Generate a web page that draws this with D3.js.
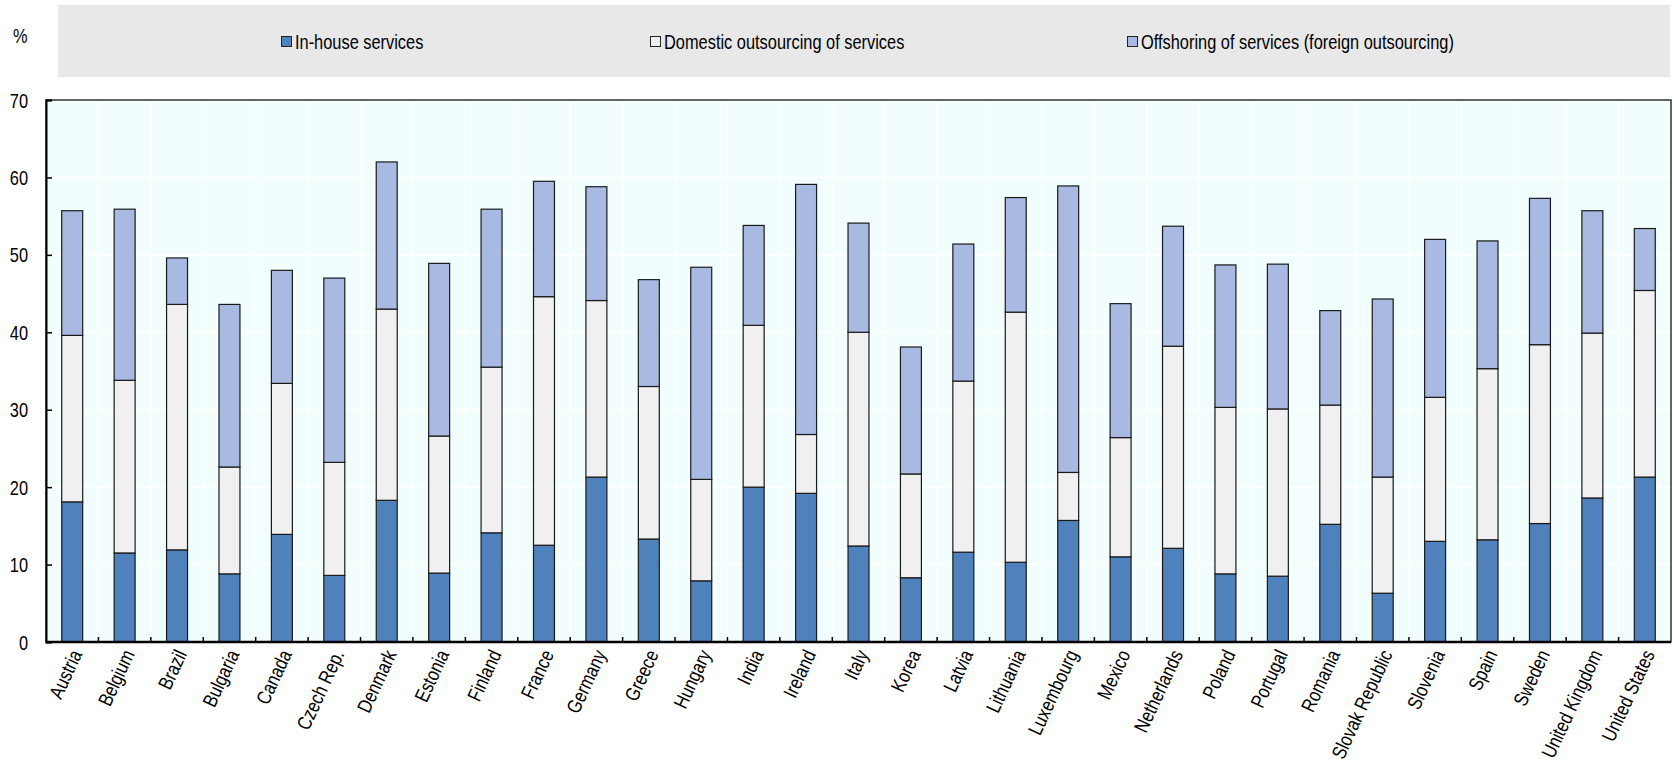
<!DOCTYPE html>
<html>
<head>
<meta charset="utf-8">
<script src="https://cdn.jsdelivr.net/npm/d3@7"></script>
<style>
  html, body { margin: 0; padding: 0; background: #fff; }
  svg { display: block; }
  text { font-family: "Liberation Sans Narrow", "Arial Narrow", "Liberation Sans", Arial, sans-serif; fill: #000; }
</style>
</head>
<body>
<svg id="chart" width="1674" height="760"></svg>
<script>
const countries = ["Austria","Belgium","Brazil","Bulgaria","Canada","Czech Rep.","Denmark","Estonia","Finland","France","Germany","Greece","Hungary","India","Ireland","Italy","Korea","Latvia","Lithuania","Luxembourg","Mexico","Netherlands","Poland","Portugal","Romania","Slovak Republic","Slovenia","Spain","Sweden","United Kingdom","United States"];
const inHouse    = [18.1,11.5,11.9, 8.8,13.9, 8.6,18.3, 8.9,14.1,12.5,21.3,13.3, 7.9,20.0,19.2,12.4, 8.3,11.6,10.3,15.7,11.0,12.1, 8.8, 8.5,15.2, 6.3,13.0,13.2,15.3,18.6,21.3];
const domestic   = [21.5,22.3,31.7,13.8,19.5,14.6,24.7,17.7,21.4,32.1,22.8,19.7,13.1,20.9, 7.6,27.6,13.4,22.1,32.3, 6.2,15.4,26.1,21.5,21.6,15.4,15.0,18.6,22.1,23.1,21.3,24.1];
const offshoring = [16.1,22.1, 6.0,21.0,14.6,23.8,19.0,22.3,20.4,14.9,14.7,13.8,27.4,12.9,32.3,14.1,16.4,17.7,14.8,37.0,17.3,15.5,18.4,18.7,12.2,23.0,20.4,16.5,18.9,15.8, 8.0];
const seriesNames = ["In-house services","Domestic outsourcing of services","Offshoring of services (foreign outsourcing)"];
const seriesKeys = ["inHouse","domestic","offshoring"];
const seriesColors = ["#4f81bd","#f0f0f0","#a8b9e2"];
const yTicks = [0,10,20,30,40,50,60,70];
const unitLabel = "%";

const NARROW = 0.82; // horizontal compression to mimic a narrow typeface
const FS = 20;

const rows = countries.map((c,i)=>({country:c, inHouse:inHouse[i], domestic:domestic[i], offshoring:offshoring[i]}));
const stacked = d3.stack().keys(seriesKeys)(rows);

const svg = d3.select("#chart");
const plot = {left:46, right:1671, top:100, bottom:642};

const x = d3.scaleBand().domain(countries).range([plot.left, plot.right]).paddingInner(0.6).paddingOuter(0.3);
const y = d3.scaleLinear().domain([0,70]).range([plot.bottom, plot.top]);

// legend box
svg.append("rect").attr("x",58).attr("y",5).attr("width",1612).attr("height",72).attr("fill","#e8e8e8");
const legendPos = [281, 650, 1127];
seriesNames.forEach((n,i)=>{
  svg.append("rect").attr("x",legendPos[i]+0.5).attr("y",36.5).attr("width",10).attr("height",10)
     .attr("fill",seriesColors[i]).attr("stroke","#222").attr("stroke-width",1);
  svg.append("text").attr("transform",`translate(${legendPos[i]+14},42) scale(${NARROW},1)`).attr("dy","0.35em")
     .attr("font-size",FS).text(n);
});
svg.append("text").attr("transform",`translate(13,36) scale(${NARROW},1)`).attr("dy","0.35em").attr("font-size",FS).text(unitLabel);

// plot background
svg.append("rect").attr("x",plot.left).attr("y",plot.top).attr("width",plot.right-plot.left).attr("height",plot.bottom-plot.top).attr("fill","#f2fefe");

// gridlines
const step = x.step();
const bounds = d3.range(1, countries.length).map(i => plot.left + i*step);
svg.append("g").selectAll("line").data(bounds).join("line")
  .attr("x1",d=>d).attr("x2",d=>d).attr("y1",plot.top).attr("y2",plot.bottom)
  .attr("stroke","#ffffff").attr("stroke-width",1.5);
svg.append("g").selectAll("line").data(yTicks.slice(1,-1)).join("line")
  .attr("x1",plot.left).attr("x2",plot.right).attr("y1",d=>y(d)).attr("y2",d=>y(d))
  .attr("stroke","#ffffff").attr("stroke-width",1.5);

// bars
svg.append("g").selectAll("g").data(stacked).join("g")
  .attr("fill",(d,i)=>seriesColors[i])
  .selectAll("rect").data(d=>d).join("rect")
  .attr("x",d=>x(d.data.country)).attr("width",x.bandwidth())
  .attr("y",d=>y(d[1])).attr("height",d=>y(d[0])-y(d[1]))
  .attr("stroke","#1a1a1a").attr("stroke-width",1.2);

// frame
svg.append("rect").attr("x",plot.left).attr("y",plot.top).attr("width",plot.right-plot.left).attr("height",plot.bottom-plot.top)
  .attr("fill","none").attr("stroke","#333").attr("stroke-width",1.5);

// y axis
const yAxis = d3.axisLeft(y).tickValues(yTicks).tickSize(-6).tickPadding(18);
const yg = svg.append("g").attr("transform",`translate(${plot.left},0)`).call(yAxis);
yg.select(".domain").attr("stroke","#000").attr("stroke-width",2);
yg.selectAll(".tick line").attr("stroke","#000").attr("stroke-width",1.5);
yg.selectAll(".tick text")
  .attr("x",null).attr("dy",null)
  .attr("transform",`translate(-18,0) scale(${NARROW},1)`)
  .attr("dy","0.35em")
  .attr("font-size",FS).attr("font-family",null).attr("fill","#000");

// x axis
const xg = svg.append("g").attr("transform",`translate(0,${plot.bottom})`);
xg.append("line").attr("x1",plot.left).attr("x2",plot.right).attr("stroke","#000").attr("stroke-width",2.5);
xg.selectAll("line.tk").data(bounds).join("line").attr("class","tk")
  .attr("x1",d=>d).attr("x2",d=>d).attr("y1",0).attr("y2",-5).attr("stroke","#000").attr("stroke-width",1.5);
xg.selectAll("text").data(countries).join("text")
  .attr("transform",d=>`translate(${x(d)+x.bandwidth()/2+4},9) rotate(-65) scale(${NARROW},1)`)
  .attr("text-anchor","end").attr("dy","0.35em").attr("font-size",FS).text(d=>d);
</script>
</body>
</html>
